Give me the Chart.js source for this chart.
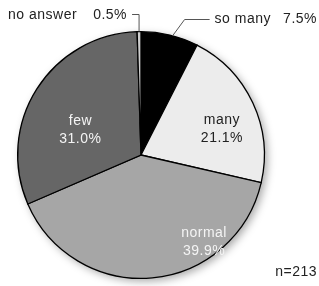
<!DOCTYPE html>
<html>
<head>
<meta charset="utf-8">
<script src="https://cdn.jsdelivr.net/npm/chart.js@4"></script>
<style>
  html, body { margin: 0; padding: 0; background: #fff; }
  #wrap { position: relative; width: 319px; height: 286px; }
</style>
</head>
<body>
<div id="wrap"><canvas id="myChart" width="319" height="286"></canvas></div>
<script>
const ctx = document.getElementById("myChart").getContext("2d");

// slices clockwise from 12 o'clock
const labels = ["so many", "many", "normal", "few", "no answer"];
const values = [7.5, 21.1, 39.9, 31.0, 0.5];
const colors = ["#000000", "#ececec", "#a6a6a6", "#666666", "#cfcfcf"];
const sampleNote = "n=213";

const FONT = "14px 'Liberation Sans'";

// inside labels: angle (deg from top, clockwise) and fraction of radius
const insideLabels = {
    1: { angle: 72, r: 0.69, color: "#222" },
    2: { angle: 144, r: 0.87, color: "#f4f4f4" },
    3: { angle: 292, r: 0.53, color: "#f4f4f4" },
};

const shadowPlugin = {
    id: "shadow",
    beforeDatasetsDraw(chart) {
        const arc = chart.getDatasetMeta(0).data[0];
        const c = chart.ctx;
        c.save();
        c.shadowColor = "rgba(0,0,0,0.35)";
        c.shadowBlur = 9;
        c.shadowOffsetX = 3;
        c.shadowOffsetY = 3;
        c.fillStyle = "#fff";
        c.beginPath();
        c.arc(arc.x, arc.y, arc.outerRadius, 0, Math.PI * 2);
        c.fill();
        c.restore();
    },
};

const labelPlugin = {
    id: "sliceLabels",
    afterDatasetsDraw(chart) {
        const meta = chart.getDatasetMeta(0);
        const c = chart.ctx;
        c.save();
        c.font = FONT;
        c.letterSpacing = "0.5px";
        c.textBaseline = "middle";

        // inside labels
        Object.keys(insideLabels).forEach(k => {
            const i = Number(k);
            const arc = meta.data[i];
            const p = insideLabels[k];
            const a = p.angle * Math.PI / 180;
            const x = arc.x + Math.sin(a) * arc.outerRadius * p.r;
            const y = arc.y - Math.cos(a) * arc.outerRadius * p.r;
            c.fillStyle = p.color;
            c.textAlign = "center";
            c.fillText(labels[i], x, y - 9);
            c.fillText(values[i].toFixed(1) + "%", x, y + 9);
        });

        c.strokeStyle = "#555";
        c.lineWidth = 1;

        // no answer: vertical leader from top of pie, then left
        const na = meta.data[4];
        const naAng = (na.startAngle + na.endAngle) / 2;
        const nx = na.x + Math.cos(naAng) * na.outerRadius;
        const ny = na.y + Math.sin(naAng) * na.outerRadius;
        c.beginPath();
        c.moveTo(nx, ny);
        c.lineTo(nx, 14.5);
        c.lineTo(nx - 7, 14.5);
        c.stroke();
        c.fillStyle = "#222";
        c.textAlign = "right";
        c.fillText(values[4].toFixed(1) + "%", nx - 12, 15);
        c.textAlign = "left";
        c.fillText(labels[4], 8, 15);

        // so many: diagonal leader then horizontal
        const sm = meta.data[0];
        const smAng = sm.startAngle + (sm.endAngle - sm.startAngle) * 0.55;
        const sx = sm.x + Math.cos(smAng) * sm.outerRadius;
        const sy = sm.y + Math.sin(smAng) * sm.outerRadius;
        c.beginPath();
        c.moveTo(sx, sy);
        c.lineTo(sx + 12, 19.5);
        c.lineTo(sx + 37, 19.5);
        c.stroke();
        c.textAlign = "left";
        c.fillText(labels[0], sx + 42, 19);
        c.textAlign = "right";
        c.fillText(values[0].toFixed(1) + "%", 317, 19);

        // sample size
        c.fillText(sampleNote, 317, 272);
        c.restore();
    },
};

const data = {
    labels,
    datasets: [
        {
            data: values,
            backgroundColor: colors,
            borderColor: "#000",
            borderWidth: 1.3,
            borderJoinStyle: "miter",
        },
    ],
};

const config = {
    type: "pie",
    data: data,
    options: {
        responsive: false,
        animation: false,
        layout: {
            padding: { left: 17, right: 54, top: 30, bottom: 6 },
        },
        plugins: {
            legend: { display: false },
            tooltip: { enabled: false },
        },
    },
    plugins: [shadowPlugin, labelPlugin],
};

const myChart = new Chart(ctx, config);
</script>
</body>
</html>
